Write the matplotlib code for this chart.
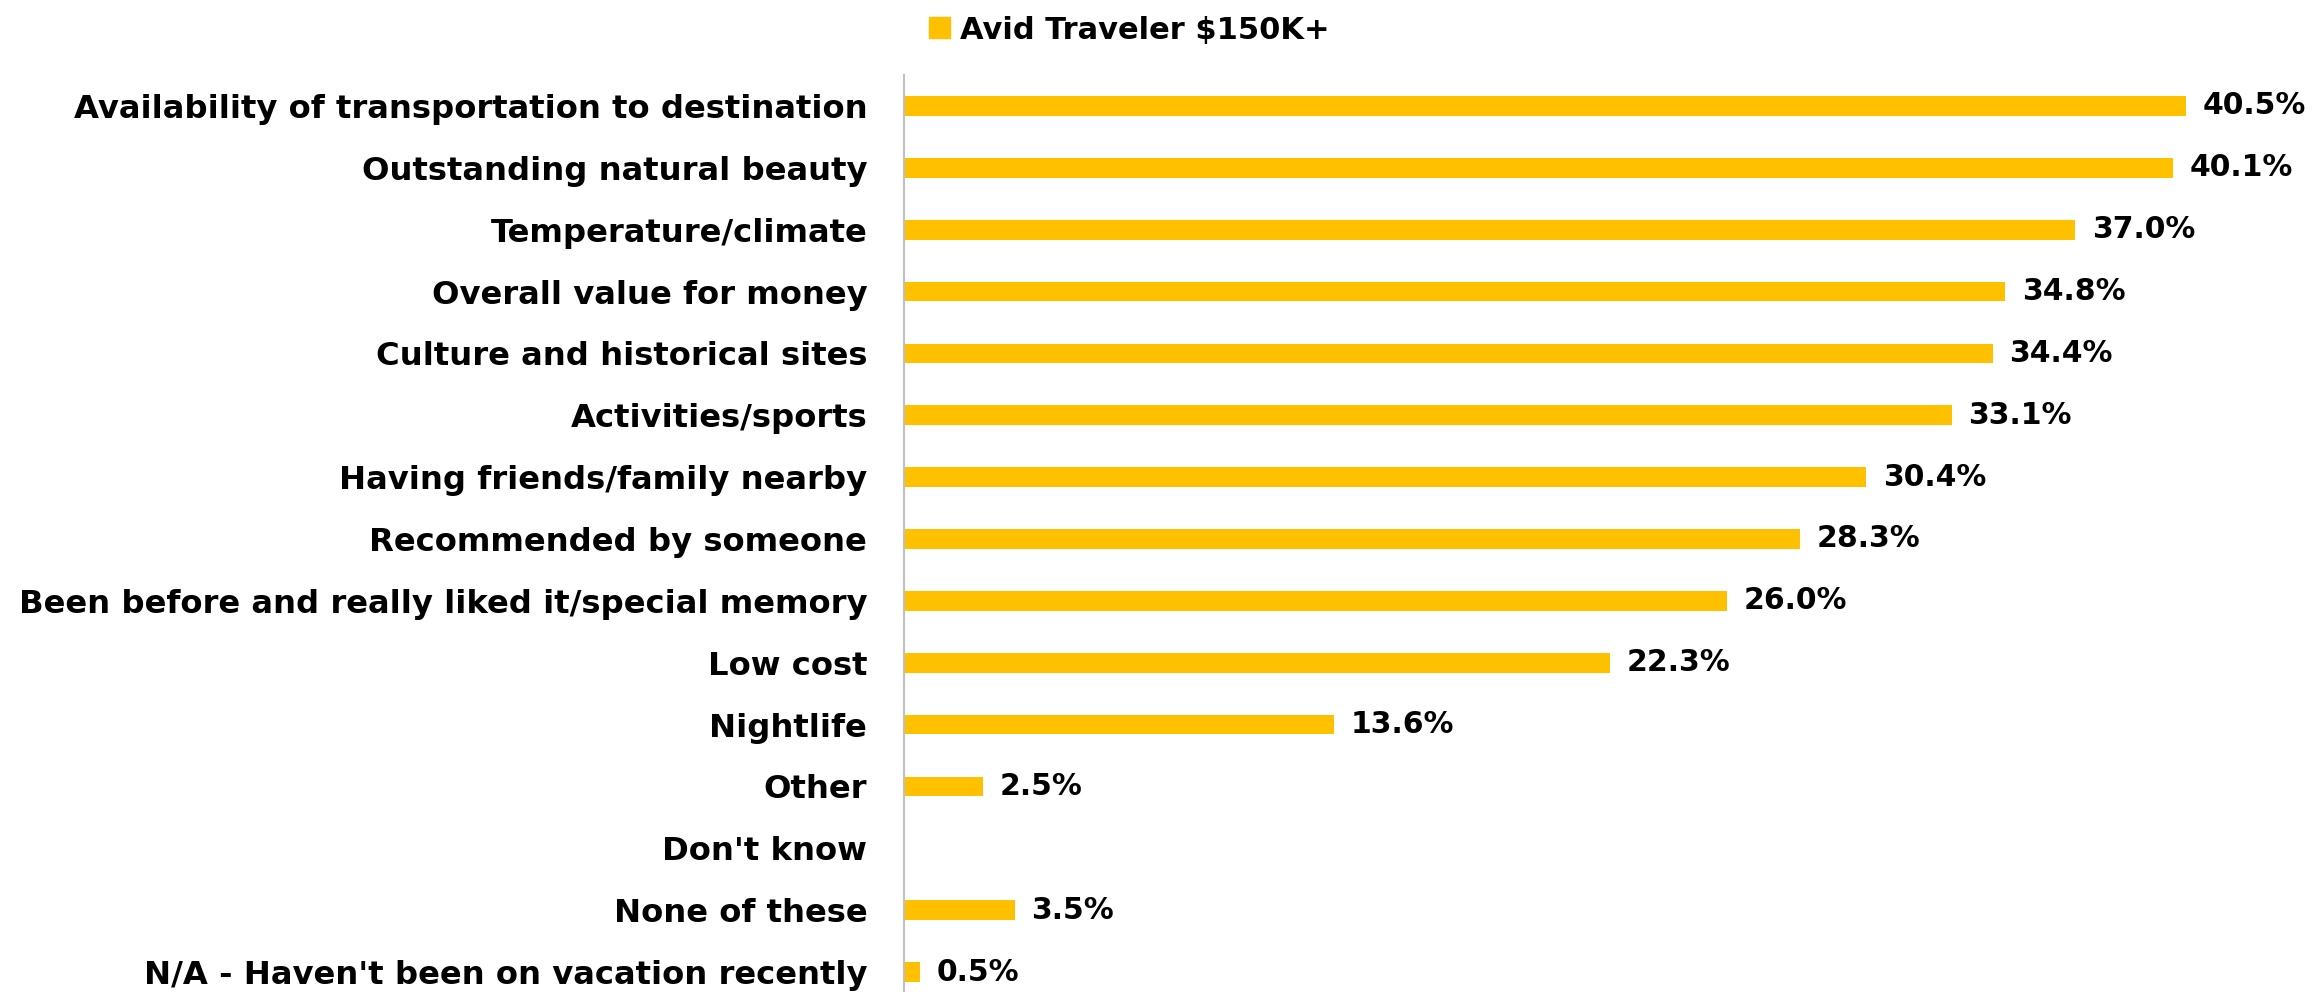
import numpy as np
import matplotlib
matplotlib.use("Agg")
import matplotlib.pyplot as plt
from matplotlib.patches import Patch

categories = [
    "Availability of transportation to destination",
    "Outstanding natural beauty",
    "Temperature/climate",
    "Overall value for money",
    "Culture and historical sites",
    "Activities/sports",
    "Having friends/family nearby",
    "Recommended by someone",
    "Been before and really liked it/special memory",
    "Low cost",
    "Nightlife",
    "Other",
    "Don't know",
    "None of these",
    "N/A - Haven't been on vacation recently",
]
values = [40.5, 40.1, 37.0, 34.8, 34.4, 33.1, 30.4, 28.3, 26.0, 22.3, 13.6, 2.5, np.nan, 3.5, 0.5]
series_name = "Avid Traveler $150K+"

BAR = "#FFC000"
W, H = 2313, 992
plt.rcParams['font.family'] = ['DejaVu Sans']
fig = plt.figure(figsize=(W / 100, H / 100), dpi=100)

axis_x = 904
left = axis_x / W
top_px, bot_px = 75, 1003
ax = fig.add_axes([left, 1 - bot_px / H, 1 - left, (bot_px - top_px) / H])

y = np.arange(len(categories))
vals = np.array(values, dtype=float)
ax.barh(y, np.nan_to_num(vals), height=0.32, color=BAR)
ax.set_ylim(len(categories) - 0.5, -0.5)
ax.set_xlim(0, (W - axis_x) / 31.65)

for yi, v in zip(y, vals):
    if np.isnan(v):
        continue
    ax.annotate(f"{v:.1f}%", (v, yi), xytext=(12, 0), textcoords="offset points",
                va="center", ha="left", fontsize=21.5, fontweight="bold", color="black")

ax.set_yticks(y)
ax.set_yticklabels(categories, fontsize=23.2, fontweight="bold")
ax.tick_params(axis="y", length=0, pad=26.5)
ax.set_xticks([])
for s in ["top", "right", "bottom"]:
    ax.spines[s].set_visible(False)
ax.spines["left"].set_color("#BFBFBF")
ax.spines["left"].set_linewidth(1.5)

fig.legend(handles=[Patch(color=BAR, label=series_name)], loc="center left",
           bbox_to_anchor=(929 / W, 1 - 30 / H), frameon=False,
           prop={"weight": "bold", "size": 22}, handlelength=0.69, handleheight=0.69,
           handletextpad=0.33, borderpad=0, borderaxespad=0)

fig.savefig("out.png", dpi=100)
